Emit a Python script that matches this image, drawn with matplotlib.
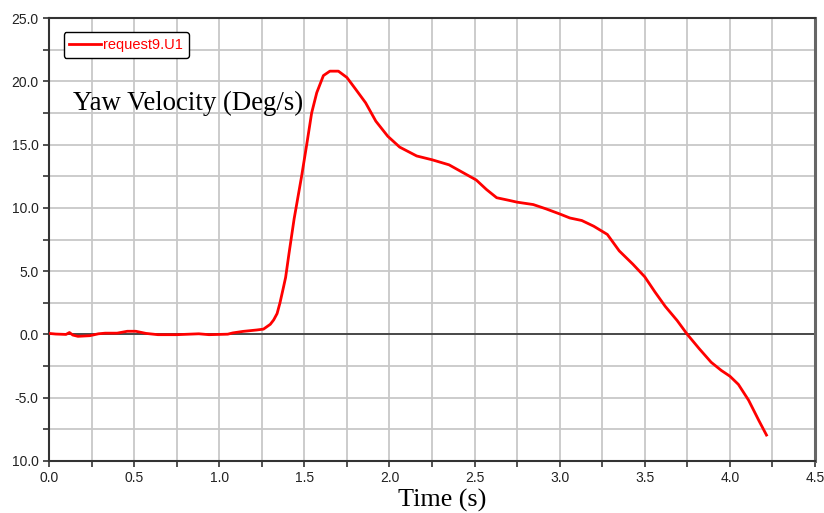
import matplotlib
matplotlib.use("Agg")
import matplotlib.pyplot as plt
from matplotlib.ticker import MultipleLocator, FixedLocator, FixedFormatter

# ---- data ----
time_s = [0.00, 0.04, 0.10, 0.12, 0.14, 0.17, 0.24, 0.29, 0.33, 0.40, 0.46, 0.51,
          0.57, 0.64, 0.75, 0.88, 0.94, 1.05, 1.08, 1.14, 1.22, 1.26, 1.30, 1.32, 1.34,
          1.357, 1.377, 1.39, 1.41, 1.44, 1.484, 1.514, 1.543, 1.573, 1.612, 1.65,
          1.70, 1.75, 1.80, 1.86, 1.92, 1.99, 2.06, 2.16, 2.25, 2.35, 2.43, 2.51,
          2.57, 2.63, 2.70, 2.75, 2.845, 2.92, 3.00, 3.06, 3.13, 3.20, 3.28, 3.35,
          3.43, 3.50, 3.56, 3.62, 3.69, 3.75, 3.82, 3.89, 3.95, 4.00, 4.05, 4.11,
          4.17, 4.215]
yaw_vel = [0.08, 0.03, 0.00, 0.15, -0.05, -0.15, -0.10, 0.05, 0.10, 0.10, 0.25, 0.25,
           0.08, -0.02, -0.02, 0.05, -0.02, 0.02, 0.12, 0.24, 0.35, 0.42, 0.80, 1.15, 1.65,
           2.50, 3.70, 4.50, 6.40, 9.13, 12.5, 15.0, 17.5, 19.1, 20.45, 20.8,
           20.8, 20.3, 19.4, 18.3, 16.85, 15.66, 14.8, 14.1, 13.8, 13.4, 12.8, 12.2,
           11.45, 10.8, 10.6, 10.45, 10.26, 9.92, 9.52, 9.20, 9.00, 8.55, 7.90, 6.60,
           5.55, 4.55, 3.35, 2.22, 1.10, 0.00, -1.13, -2.20, -2.85, -3.30, -3.95, -5.20,
           -6.80, -7.95]
series_label = "request9.U1"
x_ticks = [0.0, 0.5, 1.0, 1.5, 2.0, 2.5, 3.0, 3.5, 4.0, 4.5]
x_tick_labels = ["0.0", "0.5", "1.0", "1.5", "2.0", "2.5", "3.0", "3.5", "4.0", "4.5"]
y_ticks = [25, 20, 15, 10, 5, 0, -5, -10]
y_tick_labels = ["25.0", "20.0", "15.0", "10.0", "5.0", "0.0", "-5.0", "10.0"]
inner_title = "Yaw Velocity (Deg/s)"
x_title = "Time (s)"

fig = plt.figure(figsize=(8.24, 5.13), dpi=100)
ax = fig.add_axes([49 / 824, 52 / 513, 766 / 824, 443 / 513])

ax.set_xlim(0, 4.5)
ax.set_ylim(-10, 25)

ax.xaxis.set_major_locator(FixedLocator(x_ticks))
ax.xaxis.set_major_formatter(FixedFormatter(x_tick_labels))
ax.xaxis.set_minor_locator(MultipleLocator(0.25))
ax.yaxis.set_major_locator(FixedLocator(y_ticks))
ax.yaxis.set_major_formatter(FixedFormatter(y_tick_labels))
ax.yaxis.set_minor_locator(MultipleLocator(2.5))

ax.grid(True, which="both", color="#c8c8c8", linewidth=1.3, zorder=0)
ax.set_axisbelow(True)

ax.tick_params(which="both", direction="out", length=4, width=1.2, color="#333333",
               labelsize=10, labelcolor="#222222", pad=3.5)
for lab in ax.get_xticklabels() + ax.get_yticklabels():
    lab.set_family("Liberation Sans")

for side in ["left", "bottom", "top"]:
    ax.spines[side].set_color("#333333")
    ax.spines[side].set_linewidth(1.5)
ax.spines["right"].set_color("#666666")
ax.spines["right"].set_linewidth(2.2)

ax.axhline(0, color="#333333", linewidth=1.2, zorder=2)

ax.plot(time_s, yaw_vel, color="#ff0000", linewidth=2.0, label=series_label, zorder=3)

leg = ax.legend(loc="upper left", bbox_to_anchor=(0.019, 0.968), frameon=True,
                fancybox=True, edgecolor="black", framealpha=1.0,
                prop={"family": "Liberation Sans", "size": 10.5},
                handlelength=2.2, handletextpad=0.1, borderpad=0.4,
                borderaxespad=0.0, labelcolor="#ff0000")
leg.get_frame().set_linewidth(1.0)

fig.text(73 / 824, 1 - 103 / 513, inner_title,
         family="Liberation Serif", fontsize=19.3, color="black", va="center", ha="left")
fig.text(442 / 824, 13 / 513, x_title, family="Liberation Serif", fontsize=18.8,
         color="black", va="center", ha="center")

fig.savefig("out.png", dpi=100)
